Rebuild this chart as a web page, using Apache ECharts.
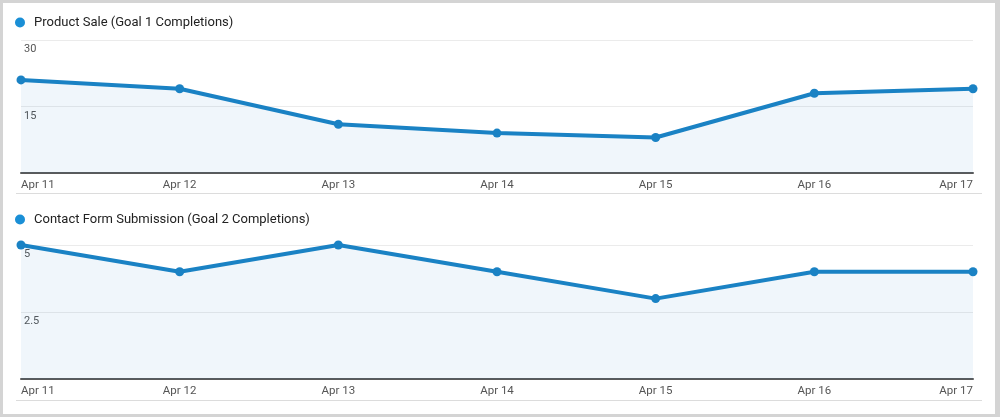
<!DOCTYPE html>
<html>
<head>
<meta charset="utf-8">
<script src="https://cdn.jsdelivr.net/npm/echarts@6/dist/echarts.min.js"></script>
<style>
html,body{margin:0;padding:0;background:#fff;}
#c{width:1000px;height:417px;}
</style>
</head>
<body>
<div id="c"></div>
<script>
const categories = ['Apr 11','Apr 12','Apr 13','Apr 14','Apr 15','Apr 16','Apr 17'];
const productSale = [21, 19, 11, 9, 8, 18, 19];
const contactForm = [5, 4, 5, 4, 3, 4, 4];
const seriesNames = ['Product Sale (Goal 1 Completions)', 'Contact Form Submission (Goal 2 Completions)'];
const yMax1 = 30, yStep1 = 15;
const yMax2 = 5, yStep2 = 2.5;

const LINE = '#1a82c4';
const DOT = '#1a8fd6';
const FONT = 'Roboto, Arial, sans-serif';

const chart = echarts.init(document.getElementById('c'), null, {renderer: 'canvas'});

function xAxis(gi) {
  return {
    type: 'category', gridIndex: gi, data: categories, boundaryGap: false,
    axisLine: {lineStyle: {color: '#5a5a5a', width: 2}},
    axisTick: {show: false},
    axisLabel: {color: '#555', fontSize: 11.5, fontFamily: FONT, margin: 6,
      alignMinLabel: 'left', alignMaxLabel: 'right'},
    splitLine: {show: false}
  };
}
function yAxis(gi, max, step) {
  return {
    type: 'value', gridIndex: gi, min: 0, max: max, interval: step,
    axisLine: {show: false}, axisTick: {show: false},
    axisLabel: {inside: true, showMinLabel: false, color: '#555', fontSize: 11, fontFamily: FONT,
      verticalAlign: 'top', margin: 3, padding: [4, 0, 0, 0]},
    splitLine: {lineStyle: {color: '#ebebeb', width: 1}}
  };
}
function legend(name, top) {
  return {
    data: [name], left: 10, top: top, icon: 'circle', itemWidth: 18, itemHeight: 10,
    selectedMode: false,
    textStyle: {color: '#222', fontSize: 13, fontFamily: FONT},
    itemStyle: {color: DOT}
  };
}
function series(name, data, idx) {
  return {
    name: name, type: 'line', xAxisIndex: idx, yAxisIndex: idx, data: data,
    symbol: 'circle', symbolSize: 9, showSymbol: true,
    lineStyle: {color: LINE, width: 4},
    itemStyle: {color: LINE},
    areaStyle: {color: 'rgba(45,125,205,0.1)'},
    emphasis: {disabled: true}, silent: true, animation: false
  };
}

const frame = '#d4d4d4';
chart.setOption({
  animation: false,
  backgroundColor: '#fff',
  legend: [legend(seriesNames[0], 11), legend(seriesNames[1], 208)],
  grid: [
    {left: 21, right: 27, top: 40, height: 133},
    {left: 21, right: 27, top: 245, height: 134}
  ],
  xAxis: [xAxis(0), xAxis(1)],
  yAxis: [yAxis(0, yMax1, yStep1), yAxis(1, yMax2, yStep2)],
  series: [series(seriesNames[0], productSale, 0), series(seriesNames[1], contactForm, 1)],
  graphic: [
    {type: 'line', shape: {x1: 16, y1: 193.5, x2: 982, y2: 193.5}, style: {stroke: '#dcdcdc', lineWidth: 1}, silent: true},
    {type: 'line', shape: {x1: 16, y1: 400.5, x2: 982, y2: 400.5}, style: {stroke: '#dcdcdc', lineWidth: 1}, silent: true},
    {type: 'rect', shape: {x: 0, y: 0, width: 1000, height: 3}, style: {fill: frame}, silent: true},
    {type: 'rect', shape: {x: 0, y: 0, width: 3, height: 417}, style: {fill: frame}, silent: true},
    {type: 'rect', shape: {x: 995, y: 0, width: 5, height: 417}, style: {fill: frame}, silent: true},
    {type: 'rect', shape: {x: 0, y: 414, width: 1000, height: 3}, style: {fill: frame}, silent: true}
  ]
});
</script>
</body>
</html>
